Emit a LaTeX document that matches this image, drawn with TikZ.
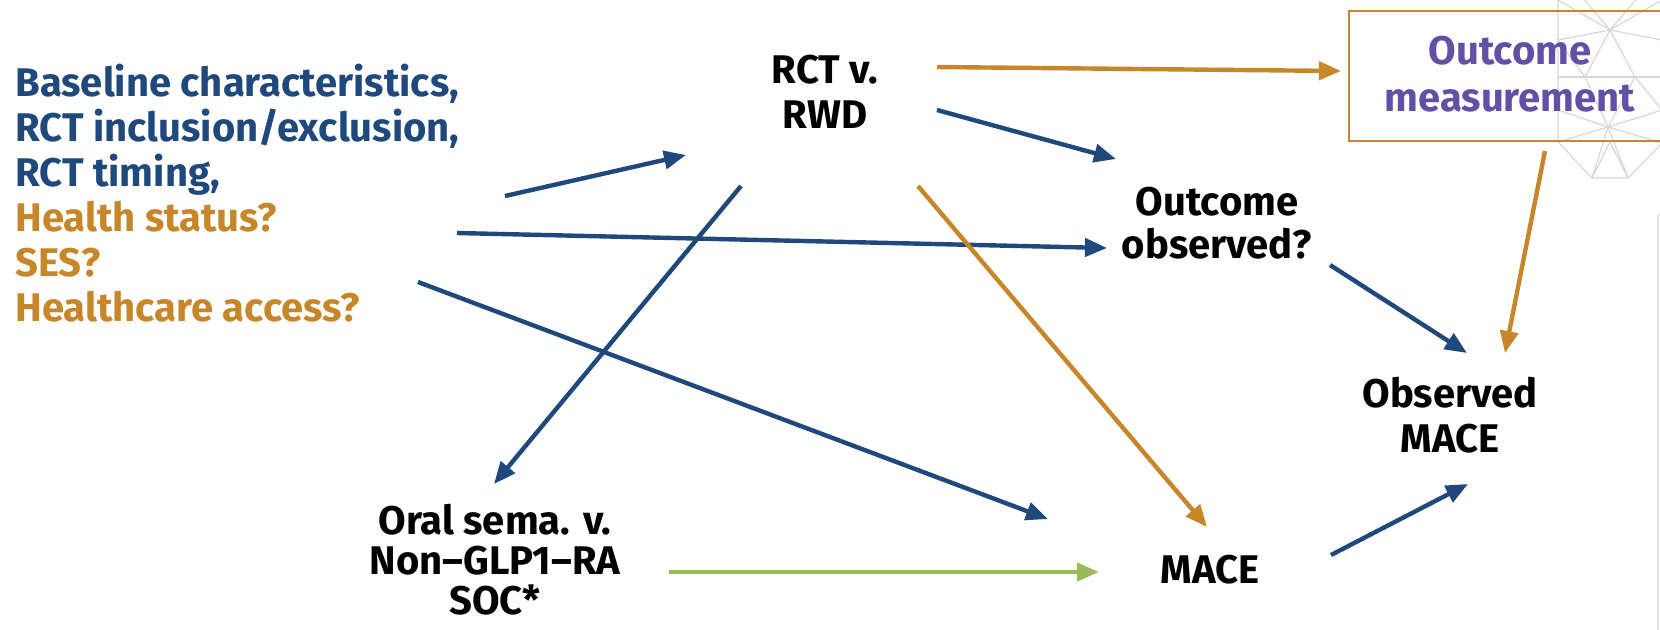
\documentclass[tikz,border=0pt]{standalone}
\usepackage{fontspec}
\setmainfont{Fira Sans}
\usetikzlibrary{arrows.meta}
\definecolor{dagblue}{RGB}{31,73,125}
\definecolor{daggold}{RGB}{200,134,42}
\definecolor{dagpurple}{RGB}{99,79,166}
\definecolor{daggreen}{RGB}{155,187,89}
\definecolor{tilegray}{RGB}{215,215,215}
\newcommand\firstline{\rule{0pt}{15.5pt}}
\begin{document}
\begin{tikzpicture}[x=0.5pt,y=-0.5pt,
  lbl/.style={inner sep=0pt, font=\fontsize{20}{22.5}\selectfont\bfseries, align=center, anchor=north},
  arr/.style={line width=2.2pt, -{Triangle[length=11pt,width=9pt]}},
  tile/.style={draw=tilegray, line width=0.6pt}]
\path[use as bounding box, fill=white] (0,0) rectangle (1660,629);

% faint geometric tile in the upper right corner
\draw[tile] (1558,-5) -- (1558,142) -- (1592,178) -- (1628,178) -- (1662,143);
\draw[tile] (1558,77) -- (1662,77);
\foreach \p in {(1558,0),(1558,40),(1585,77),(1635,77),(1662,40),(1580,-5),(1640,-5),(1662,0)}
  \draw[tile] (1610,30) -- \p;
\foreach \p in {(1558,110),(1558,142),(1585,77),(1635,77),(1662,110),(1662,143),(1592,178),(1628,178)}
  \draw[tile] (1608,127) -- \p;
\draw[tile] (1592,178) -- (1610,142) -- (1628,178);
\draw[tile] (1585,77) -- (1558,40);
\draw[tile] (1635,77) -- (1662,110);
\draw[tile] (1662,212) -- (1658,216) -- (1658,640);

% nodes
\node[lbl, anchor=north west, align=left] (conf) at (15,64)
  {\textcolor{dagblue}{\firstline Baseline characteristics,}\\
   \textcolor{dagblue}{RCT inclusion/exclusion,}\\
   \textcolor{dagblue}{RCT timing,}\\
   \textcolor{daggold}{Health status?}\\
   \textcolor{daggold}{SES?}\\
   \textcolor{daggold}{Healthcare access?}};
\node[lbl] (rct) at (825,52) {\firstline RCT v.\\RWD};
\draw[daggold, line width=1pt] (1349,11) rectangle (1675,141);
\node[lbl, text=dagpurple, font=\fontsize{20}{23.5}\selectfont\bfseries] (meas) at (1510,33) {\firstline Outcome\\measurement};
\node[lbl, font=\fontsize{20}{21.5}\selectfont\bfseries] (obs) at (1217,184) {\firstline Outcome\\observed?};
\node[lbl] (omace) at (1450,376) {\firstline Observed\\MACE};
\node[lbl] (mace) at (1210,552) {\firstline MACE};
\node[lbl, font=\fontsize{20}{20}\selectfont\bfseries] (trt) at (495,503) {\firstline Oral sema. v.\\Non–GLP1–RA\\SOC*};

% connector end points
\coordinate (conf-a) at (505,196);   \coordinate (rct-in) at (686,155);
\coordinate (conf-b) at (457,233);   \coordinate (obs-in) at (1107,248);
\coordinate (conf-c) at (418,282);   \coordinate (mace-in1) at (1048,519);
\coordinate (rct-a) at (937,67);     \coordinate (meas-in) at (1341,71);
\coordinate (rct-b) at (937,110);    \coordinate (obs-in2) at (1116,159);
\coordinate (rct-c) at (741,186);    \coordinate (trt-in) at (494,484);
\coordinate (rct-d) at (918,186);    \coordinate (mace-in2) at (1207,527);
\coordinate (obs-out) at (1330,265); \coordinate (omace-in1) at (1467,353);
\coordinate (meas-out) at (1545,151);\coordinate (omace-in2) at (1505,353);
\coordinate (trt-out) at (669,572);  \coordinate (mace-in3) at (1099,572);
\coordinate (mace-out) at (1331,555);\coordinate (omace-in3) at (1468,484);

% connectors
\draw[arr, dagblue] (conf-a) -- (rct-in);
\draw[arr, dagblue] (conf-b) -- (obs-in);
\draw[arr, dagblue] (conf-c) -- (mace-in1);
\draw[arr, daggold] (rct-a) -- (meas-in);
\draw[arr, dagblue] (rct-b) -- (obs-in2);
\draw[arr, dagblue] (rct-c) -- (trt-in);
\draw[arr, daggold] (rct-d) -- (mace-in2);
\draw[arr, dagblue] (obs-out) -- (omace-in1);
\draw[arr, daggold] (meas-out) -- (omace-in2);
\draw[arr, daggreen] (trt-out) -- (mace-in3);
\draw[arr, dagblue] (mace-out) -- (omace-in3);
\end{tikzpicture}
\end{document}
